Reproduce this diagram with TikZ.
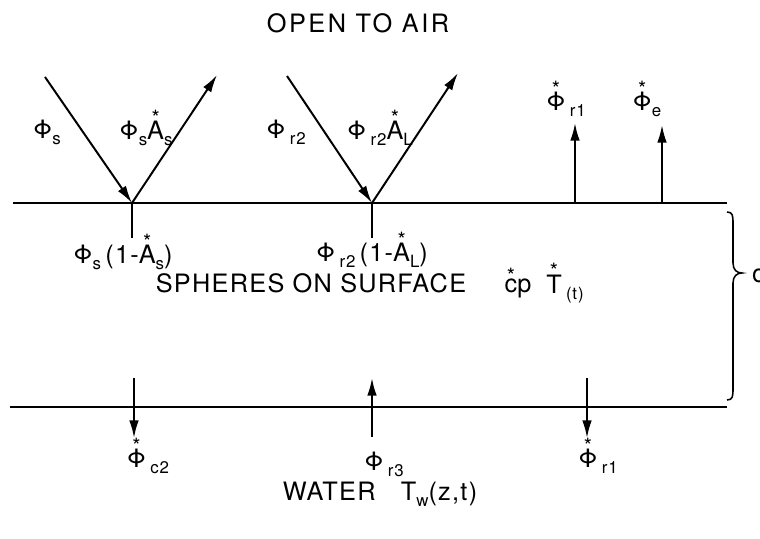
\documentclass[tikz,border=0pt]{standalone}
\usepackage{fontspec}
\setmainfont[LetterSpace=5]{TeX Gyre Heros}
\usetikzlibrary{arrows.meta, positioning}

% starred symbol and lowered index
\newcommand{\sx}[1]{\leavevmode\vbox{\offinterlineskip\halign{\hfil##\hfil\cr{\fontsize{15}{15}\selectfont *}\cr\noalign{\kern-3pt}#1\cr}}}
\newcommand{\ix}[1]{\raisebox{-0.45ex}{\fontsize{12}{12}\selectfont #1}}

\begin{document}
\begin{tikzpicture}[
    x=0.025cm, y=-0.025cm,
    font=\fontsize{18}{20}\selectfont,
    >={Latex[length=4.4mm,width=2.4mm]},
    surface/.style={black, line width=1.5pt},
    flux/.style={black, line width=1.4pt, ->},
    stem/.style={black, line width=1.4pt},
    lbl/.style={inner sep=1pt},
    title/.style={inner sep=1pt, font=\fontsize{18}{20}\selectfont\addfontfeature{LetterSpace=10}}
]
\useasboundingbox (0,0) rectangle (760,538);

% ---------- layers ----------
\coordinate (topL) at (13,203);
\coordinate (topR) at (727,203);
\coordinate (botL) at (10,407);
\coordinate (botR) at (727,407);
\draw[surface] (topL) -- (topR);
\draw[surface] (botL) -- (botR);

% ---------- brace and thickness ----------
\draw[line width=1.1pt] (727,212) .. controls (733,212) and (733,216) .. (733,224)
    -- (733,263) .. controls (733,270) and (737,273) .. (742,273)
    .. controls (737,273) and (733,276) .. (733,283)
    -- (733,388) .. controls (733,396) and (733,400) .. (727,400);
\node[anchor=west, inner sep=0pt] (thick) at (752,273) {d};

% ---------- region titles ----------
\node[title] (air) at (358,23) {OPEN TO AIR};
\node[lbl] (sph) at (311,283) {SPHERES ON SURFACE};
\node[lbl] (cp) at (518,283) {\sx{c}p};
\node[lbl] (temp) at (565,283) {\sx{T}\,\ix{(t)}};
\node[lbl] (water) at (380,494) {WATER\quad T\ix{w}(z,t)};

% ---------- solar flux ----------
\coordinate (sIn) at (45,77);
\coordinate (sHit) at (132,203);
\coordinate (sOut) at (217,75);
\coordinate (sDown) at (132,238);
\draw[flux] (sIn) -- (sHit);
\draw[flux] (sHit) -- (sOut);
\draw[stem] (sHit) -- (sDown);
\node[lbl] (phis) at (47,132) {Φ\ix{s}};
\node[lbl] (phisA) at (146,128) {Φ\ix{s}\sx{A}\ix{s}};
\node[lbl] (phisAbs) at (123,252) {Φ\ix{s}\,(1-\sx{A}\ix{s})};

% ---------- long-wave flux ----------
\coordinate (lIn) at (287,76);
\coordinate (lHit) at (372,203);
\coordinate (lOut) at (458,73);
\coordinate (lDown) at (372,238);
\draw[flux] (lIn) -- (lHit);
\draw[flux] (lHit) -- (lOut);
\draw[stem] (lHit) -- (lDown);
\node[lbl] (phir) at (286,132) {Φ\,\ix{r2}};
\node[lbl] (phirA) at (380,128) {Φ\,\ix{r2}\sx{A}\ix{L}};
\node[lbl] (phirAbs) at (372,250) {Φ\,\ix{r2}\,(1-\sx{A}\ix{L})};

% ---------- emitted upwards ----------
\coordinate (e1Foot) at (575,203);
\coordinate (e1Tip) at (575,123);
\coordinate (e2Foot) at (662,203);
\coordinate (e2Tip) at (662,125);
\draw[flux] (e1Foot) -- (e1Tip);
\draw[flux] (e2Foot) -- (e2Tip);
\node[lbl] (phirUp) at (566,99) {\sx{Φ}\,\ix{r1}};
\node[lbl] (phie) at (647,99) {\sx{Φ}\ix{e}};

% ---------- bottom surface ----------
\coordinate (cTop) at (134,378);
\coordinate (cTip) at (134,438);
\coordinate (r3Bot) at (372,437);
\coordinate (r3Tip) at (372,378);
\coordinate (r1Top) at (587,378);
\coordinate (r1Tip) at (587,438);
\draw[flux] (cTop) -- (cTip);
\draw[flux] (r3Bot) -- (r3Tip);
\draw[flux] (r1Top) -- (r1Tip);
\node[lbl] (phic) at (148,456) {\sx{Φ}\,\ix{c2}};
\node[lbl] (phir3) at (384,464) {Φ\,\ix{r3}};
\node[lbl] (phirDn) at (598,456) {\sx{Φ}\,\ix{r1}};

\end{tikzpicture}
\end{document}
